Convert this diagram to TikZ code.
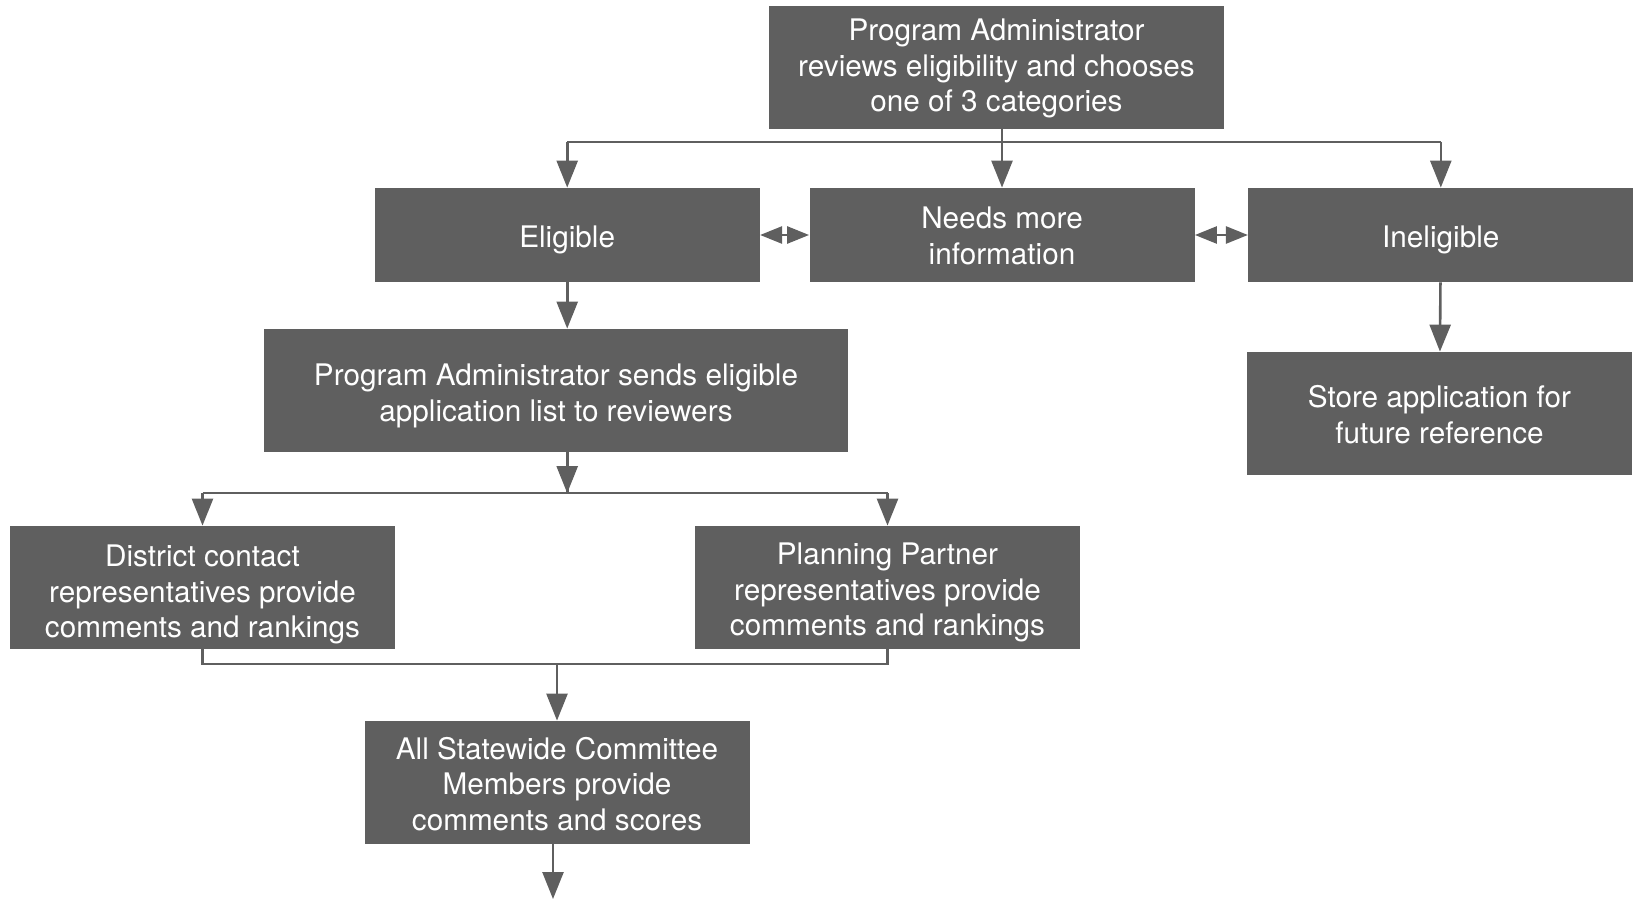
\documentclass[tikz,border=0pt]{standalone}
\usepackage{fontspec}
\setmainfont{TeX Gyre Heros}
\usetikzlibrary{positioning, arrows.meta}

\definecolor{boxgray}{HTML}{5F5F5F}
\newcommand{\lift}[1]{\rule{0pt}{#1}}

\begin{document}
\begin{tikzpicture}[x=0.5pt, y=-0.5pt, node distance=24.5pt,
  font=\fontsize{14.85}{17.8}\selectfont,
  box/.style={rectangle, fill=boxgray, text=white, align=center, inner sep=2pt,
    minimum width=192.5pt, minimum height=61.5pt},
  flat/.style={box, minimum height=47pt},
  line/.style={draw=boxgray, line width=1.3pt},
  arrow/.style={line, -{Triangle[length=13.5pt, width=10.5pt]}},
  both/.style={line, {Triangle[length=11pt, width=8.5pt]}-{Triangle[length=11pt, width=8.5pt]}}
]
\useasboundingbox (0,0) rectangle (1634,899);

\node[box, minimum width=227.5pt] (admin) at (996.5,67.5)
  {\lift{12pt}Program Administrator\\reviews eligibility and chooses\\one of 3 categories};
\node[flat] (needs) at (1002,235) {\lift{12pt}Needs more\\information};
\node[flat, left=of needs] (elig) {\lift{16pt}Eligible};
\node[flat, right=26.5pt of needs] (inel) {\lift{16pt}Ineligible};
\node[box, minimum width=292pt] (sends) at (556,390.5)
  {\lift{16.5pt}Program Administrator sends eligible\\application list to reviewers};
\node[box] (store) at (1439.5,413.5) {\lift{12.5pt}Store application for\\future reference};
\node[box] (district) at (202.5,587.5)
  {\lift{18pt}District contact\\representatives provide\\comments and rankings};
\node[box] (partner) at (887.5,587.5)
  {\lift{16pt}Planning Partner\\representatives provide\\comments and rankings};
\node[box] (state) at (557,782.5)
  {\lift{12.5pt}All Statewide Committee\\Members provide\\comments and scores};

\coordinate (split1) at (0,142);
\coordinate (split2) at (0,493);
\coordinate (join) at (0,664);
\coordinate (out) at (553,899);

% admin to the three categories
\draw[arrow] (admin.south -| needs) -- (needs.north);
\draw[line] (split1 -| elig) -- (split1 -| inel);
\draw[arrow] (split1 -| elig) -- (elig.north);
\draw[arrow] (split1 -| inel) -- (inel.north);

\draw[both] (elig) -- (needs);
\draw[both] (needs) -- (inel);

\draw[arrow] (inel) -- (store);
\draw[arrow] (elig.south) -- (elig.south |- sends.north);

% reviewers
\draw[line] (sends.south -| elig) -- (split2 -| elig);
\draw[line] (split2 -| district) -- (split2 -| partner);
\draw[arrow] (split2 -| elig) -- ++(0,0.1);
\draw[arrow] (split2 -| district) -- (district.north);
\draw[arrow] (split2 -| partner) -- (partner.north);

\draw[line] (district.south) |- (join -| partner) -- (partner.south);
\draw[arrow] (join -| state) -- (state.north);
\draw[arrow] (state.south -| out) -- (out);

\end{tikzpicture}
\end{document}
